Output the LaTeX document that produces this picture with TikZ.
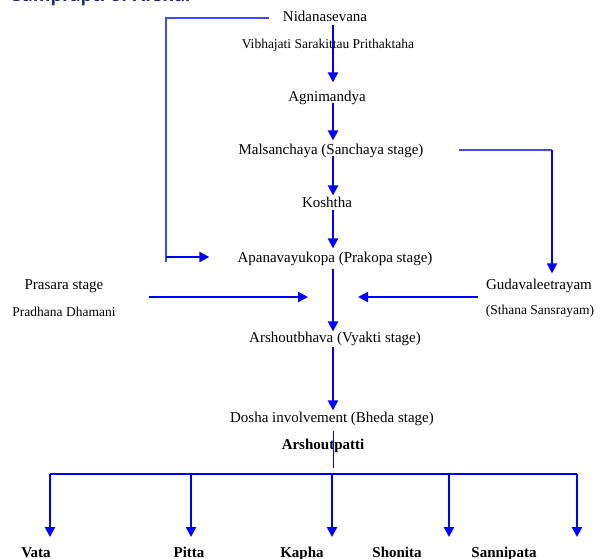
\documentclass[tikz,border=0pt]{standalone}
\usepackage{fontspec}
\setmainfont{Liberation Serif}
\newfontfamily\titlefont{Open Sans}
\usetikzlibrary{arrows.meta,positioning}
\definecolor{flowblue}{RGB}{0,0,255}
\definecolor{linkblue}{RGB}{70,70,255}
\definecolor{titlenavy}{RGB}{40,40,110}
\tikzset{
  stage/.style={inner sep=0pt, anchor=base, font=\fontsize{15}{18}\selectfont},
  note/.style={inner sep=0pt, anchor=base, font=\fontsize{13.5}{16}\selectfont},
  leaf/.style={inner sep=0pt, anchor=base, font=\fontsize{15}{18}\selectfont\bfseries},
  flow/.style={draw=flowblue, line width=2.3pt, -{Triangle[width=10pt,length=10pt]}},
  link/.style={draw=linkblue, line width=1.2pt},
}
\begin{document}
\begin{tikzpicture}[x=1pt, y=-1pt, line join=miter]
    \useasboundingbox (0,0) rectangle (609,558);
    \clip (0,0) rectangle (609,558);
    \node[font=\titlefont\fontsize{18}{21}\selectfont\bfseries, text=titlenavy, anchor=base west, inner sep=0pt] (title) at (12,1.5) {Samprapti of Arsha:};
    % main column
    \node[stage] (nid) at (325,21) {Nidanasevana};
    \node[note] (vib) at (328,48) {Vibhajati Sarakittau Prithaktaha};
    \node[stage] (agn) at (327,101) {Agnimandya};
    \node[stage] (mal) at (331,154) {Malsanchaya (Sanchaya stage)};
    \node[stage] (kos) at (327,207) {Koshtha};
    \node[stage] (apa) at (335,262) {Apanavayukopa (Prakopa stage)};
    \node[stage] (pra) at (64,289) {Prasara stage};
    \node[note] (pdh) at (64,316) {Pradhana Dhamani};
    \node[stage] (gud) at (539,289) {Gudavaleetrayam};
    \node[note] (sth) at (540,314) {(Sthana Sansrayam)};
    \node[stage] (arb) at (335,342) {Arshoutbhava (Vyakti stage)};
    \node[stage] (dos) at (332,422) {Dosha involvement (Bheda stage)};
    \node[leaf] (arp) at (323,449) {Arshoutpatti};
    \foreach \name/\x/\txt in {vata/36/Vata, pitta/189/Pitta, kapha/302/Kapha, shon/397/Shonita, sann/504/Sannipata}
        \node[leaf] (\name) at (\x,557) {\txt};
    \coordinate (axis) at (333,0);
    \coordinate (mid) at (333,297);
    \draw[flow, shorten <=4pt, shorten >=8pt] (nid.south -| axis) -- (agn.north -| axis);
    \draw[flow, shorten <=-1pt, shorten >=3pt] (agn.south -| axis) -- (mal.north -| axis);
    \draw[flow, shorten <=-1pt, shorten >=1pt] (mal.south -| axis) -- (kos.north -| axis);
    \draw[flow, shorten <=3pt, shorten >=3pt] (kos.south -| axis) -- (apa.north -| axis);
    \draw[flow, shorten <=4pt, shorten >=0pt] (apa.south -| axis) -- (arb.north -| axis);
    \draw[flow, shorten <=2pt, shorten >=1pt] (arb.south -| axis) -- (dos.north -| axis);
    % side inputs
    \coordinate (lt) at (166,18);
    \coordinate (lk) at (166,257);
    \draw[link] ([xshift=-14pt]nid.west |- lt) -- (lt) -- (lk) -- ++(0,5);
    \draw[flow] (lk) -- ([xshift=-28pt]apa.west |- lk);
    \coordinate (rt) at (552,150);
    \draw[link] ([xshift=35pt]mal.east |- rt) -- (rt);
    \draw[flow, line width=1.8pt, shorten >=5pt] (rt) -- (rt |- gud.north);
    \draw[flow] ([xshift=45pt]pra.east |- mid) -- ([xshift=-25pt]mid);
    \draw[flow] ([xshift=-8pt]gud.west |- mid) -- ([xshift=25pt]mid);
    % branches
    \draw[flowblue, line width=0.8pt, shorten <=6pt] (dos.south -| axis) -- (333,468);
    \foreach \x [count=\i] in {50,191,332,449,577}
        \coordinate (b\i) at (\x,474);
    \draw[flowblue, line width=2pt] (b1) -- (b5);
    \foreach \i in {1,...,5}
        \draw[flow] (b\i) -- ++(0,63);
\end{tikzpicture}
\end{document}
